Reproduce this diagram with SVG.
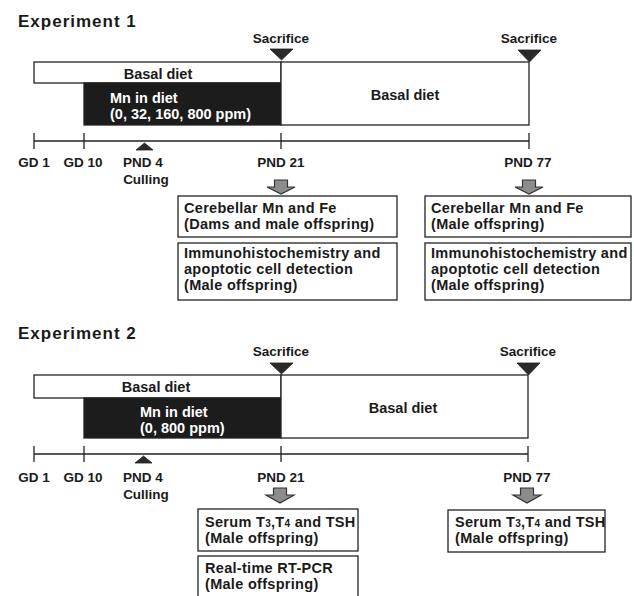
<svg xmlns="http://www.w3.org/2000/svg" width="634" height="596" viewBox="0 0 634 596">
<defs>
<style>
text{font-family:"Liberation Sans",Arial,sans-serif;fill:#1a1a1a;font-weight:bold}
.title{font-size:17px;letter-spacing:1px}
.lab{font-size:13.5px;text-anchor:middle}
.diet{font-size:14.5px;text-anchor:middle}
.mn{font-size:14.5px;fill:#fff}
.box{font-size:14.5px;letter-spacing:0.3px}
.sub{font-size:10px}
.frame{fill:#fff;stroke:#222;stroke-width:1.3}
.black{fill:#1c1c1c;stroke:#222;stroke-width:1.3}
.ln{stroke:#222;stroke-width:1.3;fill:none}
.tri{fill:#2a2a2a;stroke:#222;stroke-width:0.8}
.arr{fill:#8c8c8c;stroke:#333;stroke-width:1.2}
</style>
</defs>

<!-- Experiment 1 -->
<g id="exp1">
<text class="title" x="18" y="27">Experiment 1</text>
<g id="e1-diet">
<rect class="frame" x="34" y="62" width="247" height="21"/>
<text class="diet" x="158" y="79">Basal diet</text>
<rect class="black" x="84" y="83" width="197" height="42"/>
<text class="mn" x="110" y="103">Mn in diet</text>
<text class="mn" x="110" y="119">(0, 32, 160, 800 ppm)</text>
<rect class="frame" x="281" y="62" width="248" height="63"/>
<text class="diet" x="405" y="100">Basal diet</text>
</g>
<g id="e1-sac21">
<text class="lab" x="281" y="43">Sacrifice</text>
<polygon class="tri" points="270,49 293,49 281.5,60"/>
</g>
<g id="e1-sac77">
<text class="lab" x="529" y="43">Sacrifice</text>
<polygon class="tri" points="518,50 541,50 529.5,62"/>
</g>
<g id="e1-timeline">
<line class="ln" x1="34" y1="141" x2="529" y2="141"/>
<line class="ln" x1="34" y1="133" x2="34" y2="149"/>
<line class="ln" x1="84" y1="133" x2="84" y2="149"/>
<line class="ln" x1="281" y1="133" x2="281" y2="149"/>
<line class="ln" x1="529" y1="133" x2="529" y2="149"/>
<polygon class="tri" points="136,150 153,150 144.5,143"/>
<text class="lab" x="34" y="167">GD 1</text>
<text class="lab" x="83" y="167">GD 10</text>
<text class="lab" x="143" y="167">PND 4</text>
<text class="lab" x="146" y="184">Culling</text>
<text class="lab" x="281" y="167">PND 21</text>
<text class="lab" x="528" y="167">PND 77</text>
</g>
<g id="e1-b1">
<rect class="frame" x="178" y="196" width="219" height="41"/>
<text class="box" x="184" y="213">Cerebellar Mn and Fe</text>
<text class="box" x="184" y="229">(Dams and male offspring)</text>
</g>
<g id="e1-b2">
<rect class="frame" x="178" y="243" width="219" height="57"/>
<text class="box" x="184" y="258">Immunohistochemistry and</text>
<text class="box" x="184" y="274">apoptotic cell detection</text>
<text class="box" x="184" y="290">(Male offspring)</text>
</g>
<g id="e1-b3">
<rect class="frame" x="425" y="196" width="206" height="41"/>
<text class="box" x="431" y="213">Cerebellar Mn and Fe</text>
<text class="box" x="431" y="229">(Male offspring)</text>
</g>
<g id="e1-b4">
<rect class="frame" x="425" y="243" width="206" height="57"/>
<text class="box" x="431" y="258">Immunohistochemistry and</text>
<text class="box" x="431" y="274">apoptotic cell detection</text>
<text class="box" x="431" y="290">(Male offspring)</text>
</g>
</g>

<!-- Experiment 2 -->
<g id="exp2">
<text class="title" x="18" y="339">Experiment 2</text>
<g id="e2-diet">
<rect class="frame" x="34" y="375" width="247" height="23"/>
<text class="diet" x="156" y="392">Basal diet</text>
<rect class="black" x="84" y="398" width="197" height="40"/>
<text class="mn" x="140" y="417">Mn in diet</text>
<text class="mn" x="140" y="433">(0, 800 ppm)</text>
<rect class="frame" x="281" y="375" width="247" height="63"/>
<text class="diet" x="403" y="413">Basal diet</text>
</g>
<g id="e2-sac21">
<text class="lab" x="281" y="356">Sacrifice</text>
<polygon class="tri" points="270,363 293,363 281.5,374"/>
</g>
<g id="e2-sac77">
<text class="lab" x="528" y="356">Sacrifice</text>
<polygon class="tri" points="517,363 540,363 528.5,375"/>
</g>
<g id="e2-timeline">
<line class="ln" x1="34" y1="454" x2="528" y2="454"/>
<line class="ln" x1="34" y1="446" x2="34" y2="462"/>
<line class="ln" x1="84" y1="446" x2="84" y2="462"/>
<line class="ln" x1="281" y1="446" x2="281" y2="462"/>
<line class="ln" x1="528" y1="446" x2="528" y2="462"/>
<polygon class="tri" points="135,463 152,463 143.5,456"/>
<text class="lab" x="34" y="482">GD 1</text>
<text class="lab" x="83" y="482">GD 10</text>
<text class="lab" x="143" y="482">PND 4</text>
<text class="lab" x="146" y="499">Culling</text>
<text class="lab" x="281" y="482">PND 21</text>
<text class="lab" x="527" y="482">PND 77</text>
</g>
<g id="e2-b1">
<rect class="frame" x="198" y="509" width="160" height="42"/>
<text class="box" x="205" y="527">Serum T<tspan class="sub">3</tspan>,T<tspan class="sub">4</tspan> and TSH</text>
<text class="box" x="205" y="543">(Male offspring)</text>
</g>
<g id="e2-b2">
<rect class="frame" x="198" y="556" width="160" height="50"/>
<text class="box" x="205" y="573">Real-time RT-PCR</text>
<text class="box" x="205" y="589">(Male offspring)</text>
</g>
<g id="e2-b3">
<rect class="frame" x="448" y="510" width="157" height="42"/>
<text class="box" x="455" y="527">Serum T<tspan class="sub">3</tspan>,T<tspan class="sub">4</tspan> and TSH</text>
<text class="box" x="455" y="543">(Male offspring)</text>
</g>
</g>

<!-- Connectors (block arrows) -->
<g id="connectors">
<path class="arr" d="M274.5,180 H287.5 V187 H295 L281,194 L267,187 H274.5 Z"/>
<path class="arr" d="M522.5,180 H535.5 V187 H543 L529,194 L515,187 H522.5 Z"/>
<path class="arr" d="M273.5,488 H286.5 V495 H294 L280,503 L266,495 H273.5 Z"/>
<path class="arr" d="M520.5,488 H533.5 V495 H541 L527,503 L513,495 H520.5 Z"/>
</g>
</svg>
